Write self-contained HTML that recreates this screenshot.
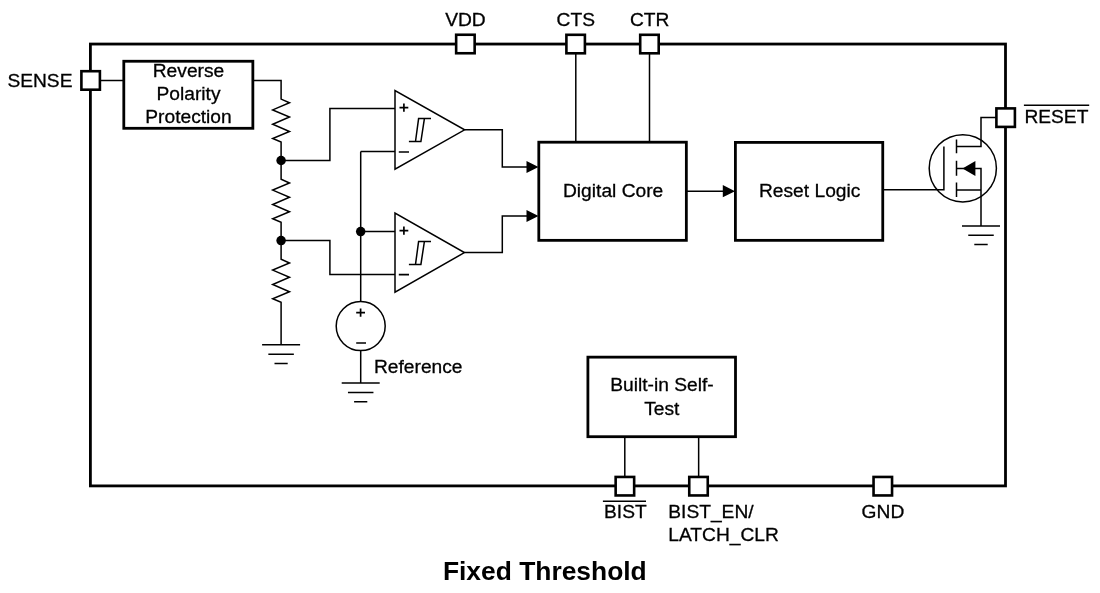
<!DOCTYPE html>
<html><head><meta charset="utf-8">
<style>
html,body{margin:0;padding:0;background:#fff;width:1100px;height:593px;overflow:hidden}
svg{display:block} text{will-change:transform}
text{font-family:"Liberation Sans",sans-serif;font-size:19.2px;fill:#000;stroke:#000;stroke-width:0.3px}
.b{font-weight:bold;font-size:26.4px;stroke:none}
.thk{fill:none;stroke:#000;stroke-width:2.8}
.thn{fill:none;stroke:#000;stroke-width:1.5}
.sg{fill:none;stroke:#000;stroke-width:1.7}
.pin{fill:#fff;stroke:#000;stroke-width:2.6}
</style></head><body>
<svg width="1100" height="593" viewBox="0 0 1100 593">
<rect class="thk" x="90.4" y="44.05" width="915.10" height="441.85"/>
<g class="thn">
<path d="M100 80.5H124"/>
<path d="M252 80.5H281.1V99.1L289.50 102.80L272.70 109.90L289.50 117.00L272.70 124.30L289.50 131.50L272.70 138.50L281.10 142.10V179.3L289.50 183.00L272.70 190.10L289.50 197.20L272.70 204.50L289.50 211.70L272.70 218.70L281.10 222.30V259.3L289.50 263.00L272.70 270.10L289.50 277.20L272.70 284.50L289.50 291.70L272.70 298.70L281.10 302.30V344.7"/>
<path d="M262.10 344.7H300.10M268.35 354.20H293.85M274.50 363.50H287.70"/>
<path d="M281.1 160.5H329.9V108.5H395"/>
<path d="M281.1 240.6H329.9V274.4H395"/>
<path d="M360.7 151.6H395M360.7 151.6V301.6M360.7 231.6H395M360.7 350.5V383"/>
<path d="M341.70 383H379.70M347.95 392.50H373.45M354.10 401.80H367.30"/>
<path d="M395 90.5V169.1L464.6 129.8Z"/>
<path d="M395 213V292.1L464.4 252.6Z"/>
<path d="M464.5 129.8H502.3V166.9H527"/>
<path d="M464.4 252.6H502.3V215.9H527"/>
<path d="M575.8 53V142M649.5 53V142"/>
<path d="M686 191.2H724"/>
<path d="M882 189.8H943.9V146.6"/>
<circle cx="962.8" cy="168.3" r="33.6"/>
<path d="M956.5 139.5V153.2M956.5 160.7V175.7M956.5 182.5V197.1"/>
<path d="M956.5 146.6H981V117.6H996M956.5 189.9H981V168.4H956.5M981 189.9V225.9"/>
<path d="M962.00 225.9H1000.00M968.25 235.35H993.75M974.30 244.40H987.70"/>
<path d="M624.8 436V477M698.65 436V477"/>
<circle cx="360.7" cy="326.1" r="24.5"/>
<path d="M431 118.6H418.6L415.5 141.5M408.9 141.5H420.9L424.4 118.6"/><path d="M431 241.5H418.6L415.5 264.4M408.9 264.4H420.9L424.4 241.5"/>
</g>
<g class="sg"><path d="M399.5 107.6H408.3M403.9 103.4V111.8M398.8 152H409"/><path d="M399.5 230.6H408.3M403.9 226.4V234.8M398.8 274.6H409"/><path d="M356.2 312.6H365M360.6 308.4V316.8M356.2 343H366"/></g>
<path d="M526.5 160.9L538.5 166.9L526.5 172.9Z M526.5 209.9L538.5 215.9L526.5 221.9Z M722.8 185.1L735 191.2L722.8 197.3Z M962.5 168.4L975.4 160.9V175.9Z"/>
<circle cx="281.1" cy="160.5" r="4.75"/><circle cx="281.1" cy="240.6" r="4.75"/><circle cx="360.7" cy="231.6" r="4.75"/>
<g class="thk">
<rect x="123.8" y="61.25" width="129.05" height="67.05"/>
<rect x="538.8" y="142.2" width="147.55" height="98.15"/>
<rect x="735.4" y="142.4" width="147.35" height="97.95"/>
<rect x="587.9" y="357.15" width="147.60" height="79.55"/>
</g>
<g class="pin">
<rect x="81.40" y="71.20" width="18.5" height="18.5"/>
<rect x="456.15" y="34.75" width="18.5" height="18.5"/>
<rect x="566.40" y="34.80" width="18.5" height="18.5"/>
<rect x="640.20" y="34.80" width="18.5" height="18.5"/>
<rect x="996.40" y="108.40" width="18.5" height="18.5"/>
<rect x="615.65" y="476.95" width="18.5" height="18.5"/>
<rect x="689.25" y="476.95" width="18.5" height="18.5"/>
<rect x="873.55" y="476.95" width="18.5" height="18.5"/>
</g>

<text x="7.4" y="86.7">SENSE</text>
<text x="445.2" y="26.3">VDD</text>
<text x="556.6" y="26.3">CTS</text>
<text x="630" y="26.3">CTR</text>
<text x="1024.4" y="123.4">RESET</text>
<path d="M1023.9 105.3H1089.2" class="thn"/>
<text x="188.5" y="76.6" text-anchor="middle">Reverse</text>
<text x="188.5" y="99.8" text-anchor="middle">Polarity</text>
<text x="188.5" y="122.8" text-anchor="middle">Protection</text>
<text x="563" y="197.1">Digital Core</text>
<text x="759" y="197.1">Reset Logic</text>
<text x="374" y="372.6">Reference</text>
<text x="662" y="390.5" text-anchor="middle">Built-in Self-</text>
<text x="661.8" y="414.7" text-anchor="middle">Test</text>
<text x="604" y="518.2">BIST</text>
<path d="M602.9 501.2H646" class="thn"/>
<text x="668.3" y="518.2">BIST_EN/</text>
<text x="668.3" y="540.6">LATCH_CLR</text>
<text x="861.6" y="518.2">GND</text>
<text class="b" x="442.9" y="580">Fixed Threshold</text>

</svg>
</body></html>
